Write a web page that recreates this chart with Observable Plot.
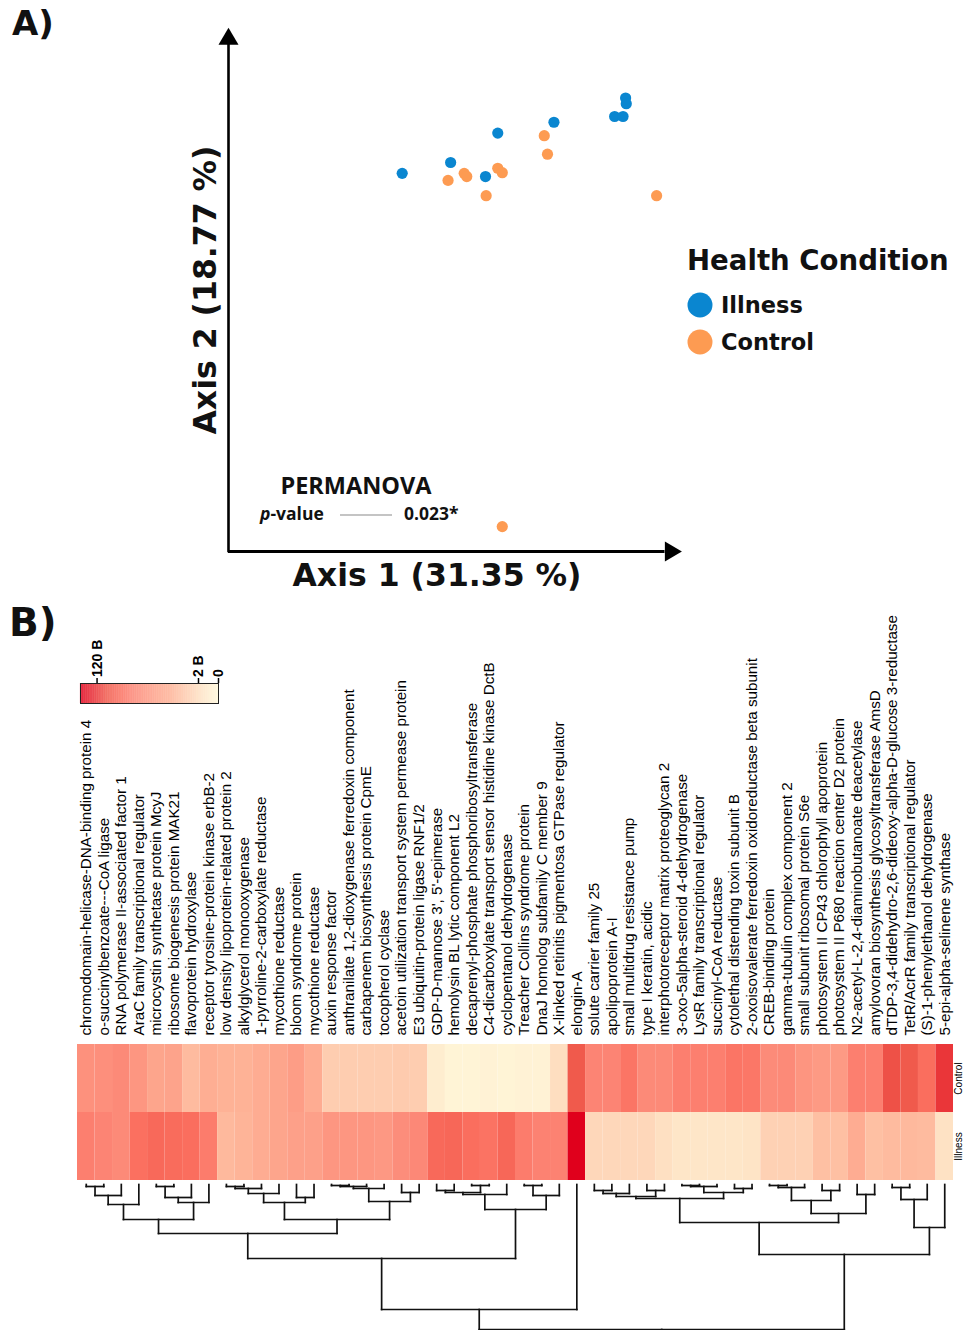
<!DOCTYPE html>
<html><head><meta charset="utf-8">
<script src="https://cdn.jsdelivr.net/npm/d3@7"></script>
<script src="https://cdn.jsdelivr.net/npm/@observablehq/plot@0.6"></script>
<style>
body{margin:0;background:#fff;}
#fig{position:relative;width:966px;height:1330px;overflow:hidden;background:#fff;}
#fig > svg, #fig > figure{position:absolute;margin:0;}
</style></head><body><div id="fig"></div>
<script>
// ---------------- DATA ----------------
// Panel A: PCoA coordinates
const conditions = ["Illness", "Control"];
const conditionColors = ["#0a86d0", "#fd9b52"];
const illnessAxis1 = [-0.081, -0.006, 0.067, 0.048, 0.154, 0.248, 0.261, 0.265, 0.266];
const illnessAxis2 = [0.192, 0.209, 0.255, 0.187, 0.272, 0.281, 0.281, 0.310, 0.301];
const controlAxis1 = [-0.010, 0.015, 0.019, 0.049, 0.067, 0.074, 0.139, 0.144, 0.313, 0.074];
const controlAxis2 = [0.181, 0.192, 0.187, 0.157, 0.200, 0.193, 0.251, 0.222, 0.157, -0.361];
const axisLabels = ["Axis 1 (31.35 %)", "Axis 2 (18.77 %)"];
const legendTitle = "Health Condition";
const testName = "PERMANOVA";
const pValueText = "0.023*";

// Panel B: heatmap
const features = [
  "chromodomain-helicase-DNA-binding protein 4",
  "o-succinylbenzoate---CoA ligase",
  "RNA polymerase II-associated factor 1",
  "AraC family transcriptional regulator",
  "microcystin synthetase protein McyJ",
  "ribosome biogenesis protein MAK21",
  "flavoprotein hydroxylase",
  "receptor tyrosine-protein kinase erbB-2",
  "low density lipoprotein-related protein 2",
  "alkylglycerol monooxygenase",
  "1-pyrroline-2-carboxylate reductase",
  "mycothione reductase",
  "bloom syndrome protein",
  "mycothione reductase",
  "auxin response factor",
  "anthranilate 1,2-dioxygenase ferredoxin component",
  "carbapenem biosynthesis protein CpmE",
  "tocopherol cyclase",
  "acetoin utilization transport system permease protein",
  "E3 ubiquitin-protein ligase RNF1/2",
  "GDP-D-mannose 3', 5'-epimerase",
  "hemolysin BL lytic component L2",
  "decaprenyl-phosphate phosphoribosyltransferase",
  "C4-dicarboxylate transport sensor histidine kinase DctB",
  "cyclopentanol dehydrogenase",
  "Treacher Collins syndrome protein",
  "DnaJ homolog subfamily C member 9",
  "X-linked retinitis pigmentosa GTPase regulator",
  "elongin-A",
  "solute carrier family 25",
  "apolipoprotein A-I",
  "small multidrug resistance pump",
  "type I keratin, acidic",
  "interphotoreceptor matrix proteoglycan 2",
  "3-oxo-5alpha-steroid 4-dehydrogenase",
  "LysR family transcriptional regulator",
  "succinyl-CoA reductase",
  "cytolethal distending toxin subunit B",
  "2-oxoisovalerate ferredoxin oxidoreductase beta subunit",
  "CREB-binding protein",
  "gamma-tubulin complex component 2",
  "small subunit ribosomal protein S6e",
  "photosystem II CP43 chlorophyll apoprotein",
  "photosystem II P680 reaction center D2 protein",
  "N2-acetyl-L-2,4-diaminobutanoate deacetylase",
  "amylovoran biosynthesis glycosyltransferase AmsD",
  "dTDP-3,4-didehydro-2,6-dideoxy-alpha-D-glucose 3-reductase",
  "TetR/AcrR family transcriptional regulator",
  "(S)-1-phenylethanol dehydrogenase",
  "5-epi-alpha-selinene synthase"
];
const sampleGroups = ["Control", "Illness"];
// relative abundance (0 = lowest, 1 = highest)
const controlValues = [
  0.55, 0.56, 0.59, 0.52, 0.43, 0.44, 0.30, 0.37, 0.34, 0.34,
  0.38, 0.43, 0.48, 0.38, 0.22, 0.22, 0.22, 0.22, 0.23, 0.22,
  0.06, 0.02, 0.02, 0.03, 0.02, 0.03, 0.03, 0.14, 0.80, 0.62,
  0.62, 0.68, 0.59, 0.59, 0.64, 0.64, 0.64, 0.68, 0.67, 0.58,
  0.59, 0.53, 0.50, 0.50, 0.64, 0.64, 0.82, 0.80, 0.71, 0.88
];
const illnessValues = [
  0.64, 0.62, 0.59, 0.70, 0.73, 0.72, 0.71, 0.65, 0.31, 0.33,
  0.38, 0.43, 0.46, 0.46, 0.52, 0.52, 0.52, 0.51, 0.57, 0.60,
  0.73, 0.74, 0.71, 0.69, 0.74, 0.65, 0.63, 0.63, 1.00, 0.17,
  0.17, 0.17, 0.17, 0.13, 0.10, 0.10, 0.10, 0.10, 0.11, 0.20,
  0.20, 0.20, 0.28, 0.28, 0.38, 0.28, 0.30, 0.31, 0.30, 0.12
];
const colorStops = [0, 0.1, 0.22, 0.34, 0.5, 0.62, 0.7, 0.8, 1];
const colorRange = ["#fff7da", "#fee6c8", "#fecdb0", "#feb296", "#fd9a84", "#fc8474", "#fb7060", "#f05a4c", "#e0001c"];
const colorbarTickLabels = ["120 B", "2 B", "0"];
const colorbarTickValues = [0.88, 0.145, 0];

// Dendrogram merges (hclust style): negative = leaf (column number), positive = earlier merge; third = height
const merges = [
  [-1, -2, 2], [1, -3, 11], [2, -4, 20], [-5, -6, 2], [4, -7, 13], [5, -8, 18], [3, 6, 35],
  [-9, -10, 2], [8, -11, 4], [9, -12, 9], [-13, -14, 13], [10, 11, 18],
  [-15, -16, 1], [13, -17, 2], [14, -18, 4], [-19, -20, 8], [15, 16, 17], [12, 17, 35],
  [7, 18, 49],
  [-23, -24, 1], [-21, -22, 6], [21, 20, 8], [22, -25, 10], [-26, -27, 1], [24, -28, 11], [23, 25, 25],
  [19, 26, 74], [27, -29, 125],
  [-30, -31, 6], [29, -32, 9], [-33, -34, 6], [30, 31, 12],
  [-35, -36, 1], [33, -37, 2], [-38, -39, 4], [34, 35, 8], [32, 36, 14],
  [-40, -41, 1], [38, -42, 3], [-43, -44, 6], [39, 40, 16], [-45, -46, 10], [41, 42, 29],
  [37, 43, 38],
  [-47, -48, 3], [45, -49, 15], [46, -50, 43],
  [44, 47, 70],
  [28, 48, 145]
];

// ---------------- DRAWING ----------------
const fig = document.getElementById("fig");
const place = (el, left, top) => { el.style.left = left + "px"; el.style.top = top + "px"; fig.appendChild(el); };
const transparent = {background: "none", overflow: "visible"};

const colorInterp = d3.scaleLinear().domain(colorStops).range(colorRange).interpolate(d3.interpolateRgb).clamp(true);
const colorOpt = {type: "linear", domain: [0, 1], interpolate: (t) => colorInterp(t)};

// Panel A
const points = [
  ...illnessAxis1.map((v, i) => ({a1: v, a2: illnessAxis2[i], group: "Illness"})),
  ...controlAxis1.map((v, i) => ({a1: v, a2: controlAxis2[i], group: "Control"}))
];
const xDom = [-0.35, 0.35], yDom = [-0.4, 0.4];
const triUp = {draw(ctx, size) { const r = Math.sqrt(size / Math.PI); ctx.moveTo(0, -r); ctx.lineTo(1.18 * r, r); ctx.lineTo(-1.18 * r, r); ctx.closePath(); }};
const triRight = {draw(ctx, size) { const r = Math.sqrt(size / Math.PI); ctx.moveTo(r, 0); ctx.lineTo(-r, 1.18 * r); ctx.lineTo(-r, -1.18 * r); ctx.closePath(); }};
const plotA = Plot.plot({
  width: 966, height: 600,
  marginLeft: 228, marginRight: 286, marginTop: 40, marginBottom: 49,
  x: {domain: xDom, axis: null},
  y: {domain: yDom, axis: null},
  color: {domain: conditions, range: conditionColors},
  style: transparent,
  marks: [
    Plot.ruleX([xDom[0]], {y1: yDom[0] - 0.002, y2: 0.395, stroke: "black", strokeWidth: 2.6}),
    Plot.ruleY([yDom[0]], {x1: xDom[0], x2: 0.326, stroke: "black", strokeWidth: 2.8}),
    Plot.dot([0], {x: xDom[0], y: 0.4065, symbol: triUp, r: 8.5, fill: "black", stroke: "none"}),
    Plot.dot([0], {x: 0.339, y: yDom[0], symbol: triRight, r: 8.5, fill: "black", stroke: "none"}),
    Plot.dot(points, {x: "a1", y: "a2", fill: "group", r: 5.6, stroke: "none"})
  ]
});
place(plotA, 0, 0);

// Panel B heatmap + labels
const cells = [];
features.forEach((f, i) => {
  cells.push({i, group: "Control", v: controlValues[i]});
  cells.push({i, group: "Illness", v: illnessValues[i]});
});
const plotB = Plot.plot({
  width: 966, height: 580,
  marginLeft: 77, marginRight: 13, marginTop: 444, marginBottom: 0,
  x: {type: "band", domain: d3.range(features.length), padding: 0, round: false, axis: null},
  y: {type: "band", domain: sampleGroups, padding: 0, round: false, axis: null},
  color: colorOpt,
  style: transparent,
  marks: [
    Plot.cell(cells, {x: "i", y: "group", fill: "v", inset: 0}),
    Plot.text(features, {x: (d, i) => i, text: (d) => d, frameAnchor: "top", dy: -9, rotate: -90,
      textAnchor: "start", lineAnchor: "middle", fontSize: 15.2, fontFamily: "Liberation Sans", fill: "black"}),
    Plot.text(sampleGroups, {y: (d) => d, text: (d) => d, frameAnchor: "right", dx: 1, rotate: -90,
      textAnchor: "middle", lineAnchor: "top", fontSize: 10, fontFamily: "Liberation Sans", fill: "black"})
  ]
});
place(plotB, 0, 600);

// Colorbar
const stripes = d3.range(0, 1, 0.005).map((t) => ({t}));
const plotC = Plot.plot({
  width: 240, height: 80,
  marginLeft: 80, marginRight: 22, marginTop: 53, marginBottom: 7,
  x: {domain: [1, 0], axis: null},
  y: {domain: [0, 1], axis: null},
  color: colorOpt,
  style: transparent,
  marks: [
    Plot.rect(stripes, {x1: "t", x2: (d) => d.t + 0.0055, y1: 0, y2: 1, fill: "t", inset: 0}),
    Plot.frame({stroke: "#222", strokeWidth: 1}),
    Plot.ruleX(colorbarTickValues, {y1: 1, y2: 1.25, stroke: "black", strokeWidth: 1.5}),
    Plot.text(colorbarTickLabels, {x: (d, i) => colorbarTickValues[i], y: 1.32, text: (d) => d, rotate: -90,
      textAnchor: "start", lineAnchor: "middle", fontSize: 14, fontWeight: "bold", fontFamily: "Liberation Sans", fill: "black"})
  ]
});
place(plotC, 0, 630);

// Dendrogram
const nodeX = [], nodeH = [];
const pos = (ref) => ref < 0 ? {x: -ref - 1, h: 0} : {x: nodeX[ref - 1], h: nodeH[ref - 1]};
const segs = [];
merges.forEach(([a, b, h], k) => {
  const A = pos(a), B = pos(b);
  segs.push({x1: A.x, y1: A.h, x2: A.x, y2: h});
  segs.push({x1: B.x, y1: B.h, x2: B.x, y2: h});
  segs.push({x1: A.x, y1: h, x2: B.x, y2: h});
  nodeX[k] = (A.x + B.x) / 2; nodeH[k] = h;
});
const last = merges.length - 1;
segs.push({x1: nodeX[last], y1: nodeH[last], x2: nodeX[last], y2: nodeH[last] + 30});
const plotD = Plot.plot({
  width: 966, height: 150,
  marginLeft: 77, marginRight: 13, marginTop: 4, marginBottom: 1,
  x: {domain: [-0.5, features.length - 0.5], axis: null},
  y: {domain: [0, 145], reverse: true, axis: null},
  style: transparent,
  marks: [
    Plot.link(segs, {x1: "x1", y1: "y1", x2: "x2", y2: "y2", stroke: "#111", strokeWidth: 1.7, strokeLinecap: "square"})
  ]
});
place(plotD, 0, 1180);

// Text overlay (titles, axis labels, legend, test result)
const ns = "http://www.w3.org/2000/svg";
const ov = document.createElementNS(ns, "svg");
ov.setAttribute("width", 966); ov.setAttribute("height", 1330);
ov.style.position = "absolute"; ov.style.left = "0px"; ov.style.top = "0px"; ov.style.pointerEvents = "none";
function txt(s, x, y, opts = {}) {
  const t = document.createElementNS(ns, "text");
  t.setAttribute("x", x); t.setAttribute("y", y);
  t.setAttribute("font-family", opts.family || "DejaVu Sans");
  t.setAttribute("font-size", opts.size || 16);
  t.setAttribute("font-weight", opts.weight || "bold");
  if (opts.anchor) t.setAttribute("text-anchor", opts.anchor);
  if (opts.transform) t.setAttribute("transform", opts.transform);
  if (opts.style) t.setAttribute("font-style", opts.style);
  t.setAttribute("fill", opts.fill || "#111");
  t.textContent = s;
  ov.appendChild(t);
  return t;
}
txt("A)", 12, 35, {size: 34});
txt("B)", 9, 636, {size: 39});
txt(axisLabels[0], 437, 586, {size: 31.5, anchor: "middle"});
txt(axisLabels[1], 0, 0, {size: 31.5, anchor: "middle", transform: "translate(216,290) rotate(-90)"});
txt(legendTitle, 687, 270, {size: 27.6});
conditions.forEach((c, i) => {
  const cy = 305 + i * 37;
  const circ = document.createElementNS(ns, "circle");
  circ.setAttribute("cx", 700); circ.setAttribute("cy", cy); circ.setAttribute("r", 12.5);
  circ.setAttribute("fill", conditionColors[i]);
  ov.appendChild(circ);
  txt(c, 721, cy + 8, {size: 22.5});
});
txt(testName, 356, 494, {size: 23.5, anchor: "middle", family: "Open Sans"});
const pv = txt("", 260, 520, {size: 17.5, family: "Open Sans"});
const ts1 = document.createElementNS(ns, "tspan"); ts1.setAttribute("font-style", "italic"); ts1.textContent = "p";
const ts2 = document.createElementNS(ns, "tspan"); ts2.textContent = "-value";
pv.appendChild(ts1); pv.appendChild(ts2);
const ln = document.createElementNS(ns, "line");
ln.setAttribute("x1", 340); ln.setAttribute("x2", 392); ln.setAttribute("y1", 515); ln.setAttribute("y2", 515);
ln.setAttribute("stroke", "#8a8a8a"); ln.setAttribute("stroke-width", 1.2);
ov.appendChild(ln);
txt(pValueText, 404, 520, {size: 17.5, family: "Open Sans"});
fig.appendChild(ov);
</script></body></html>
